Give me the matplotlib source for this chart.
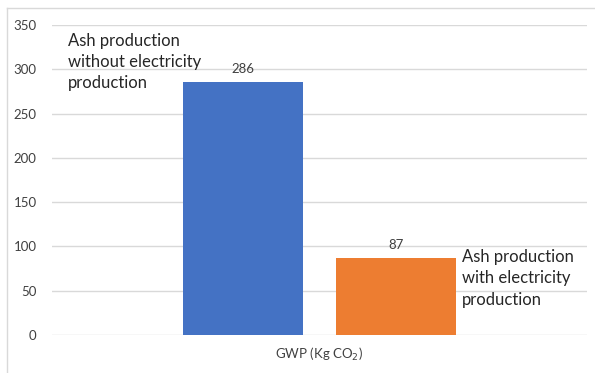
import matplotlib.pyplot as plt
from matplotlib.lines import Line2D

plt.rcParams['font.family'] = ['Lato', 'DejaVu Sans']

category = "GWP (Kg CO$_2$)"
series = ["Ash production\nwithout electricity\nproduction",
          "Ash production\nwith electricity\nproduction"]
values = [286, 87]
colors = ["#4472C4", "#ED7D31"]
yticks = [0, 50, 100, 150, 200, 250, 300, 350]

fig = plt.figure(figsize=(5.95, 3.73), dpi=100)
ax = fig.add_axes([52 / 595, 38 / 373, 535 / 595, 310 / 373])

offsets = [-0.286, 0.286]
width = 0.449
bars = ax.bar(offsets, values, width=width, color=colors, zorder=3)

for b, v in zip(bars, values):
    ax.annotate(str(v), (b.get_x() + b.get_width() / 2, v),
                xytext=(0, 5), textcoords="offset points",
                ha="center", va="bottom", fontsize=9.5, color="#404040")

ax.set_xlim(-1, 1)
ax.set_ylim(0, 350)
ax.set_yticks(yticks)
ax.yaxis.grid(True, color="#D9D9D9", linewidth=1, zorder=0)
ax.set_xticks([0])
ax.set_xticklabels([category])
ax.tick_params(axis="both", length=0, labelsize=9.5, labelcolor="#404040")
ax.tick_params(axis="y", pad=11)
ax.tick_params(axis="x", pad=8)
for s in ax.spines.values():
    s.set_visible(False)

# series names placed as free text next to each bar
ax.text(-0.94, 308, series[0], ha="left", va="center", fontsize=12,
        color="#262626", linespacing=1.4)
ax.text(0.533, 64, series[1], ha="left", va="center", fontsize=12,
        color="#262626", linespacing=1.4)

# chart frame edges
fig.add_artist(Line2D([7 / 595, 7 / 595], [0, 1 - 8 / 373],
                      transform=fig.transFigure, color="#D9D9D9", lw=1))
fig.add_artist(Line2D([7 / 595, 1], [1 - 8 / 373, 1 - 8 / 373],
                      transform=fig.transFigure, color="#D9D9D9", lw=1))

fig.savefig("out.png", dpi=100)
